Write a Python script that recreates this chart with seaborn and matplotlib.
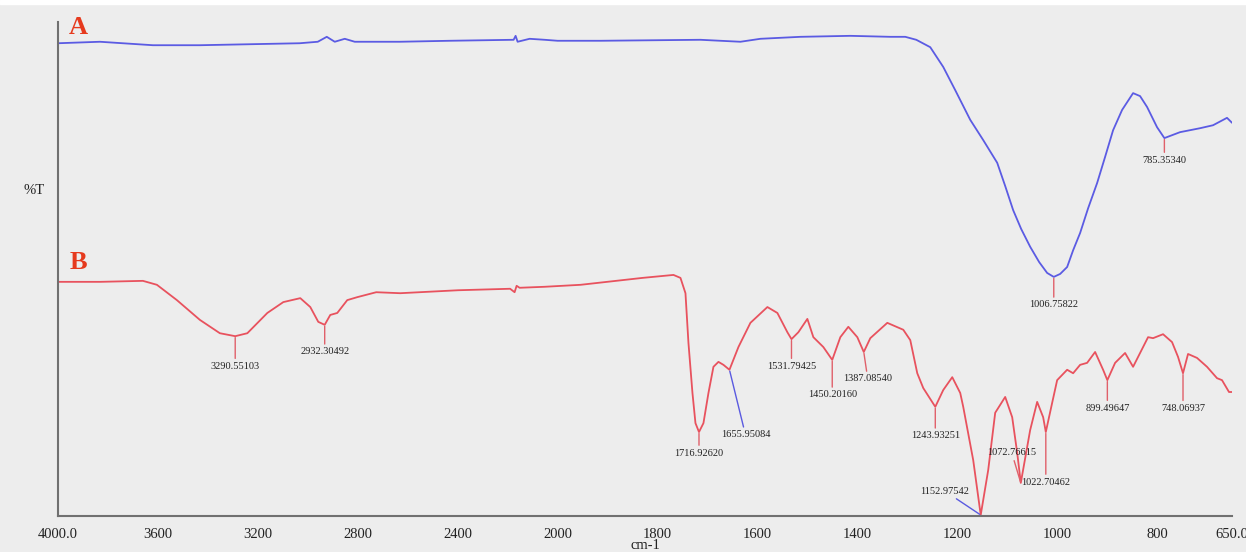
import matplotlib

matplotlib.use("Agg")
import matplotlib.pyplot as plt
import numpy as np
import pandas as pd
import seaborn as sns
from matplotlib.patches import Rectangle

# FTIR spectrum A (wavenumber cm-1, %T)
wn_a = [4000, 3832, 3620, 3432, 3232, 3032, 2960, 2924, 2892, 2852, 2812, 2632,
        2432, 2176, 2168, 2160, 2112, 2052, 2000, 1914, 1714, 1634, 1594, 1514,
        1414, 1334, 1304, 1282, 1254, 1228, 1204, 1174, 1148, 1120, 1104, 1088,
        1072, 1054, 1036, 1020, 1006.76, 994, 980, 968, 954, 938, 920, 904, 888,
        870, 848, 834, 820, 800, 785.35, 754, 714, 688, 660, 650]
t_a = [95.7, 96.0, 95.3, 95.3, 95.5, 95.7, 96.0, 97.0, 96.0, 96.6, 96.0, 96.0,
       96.2, 96.4, 97.2, 96.0, 96.6, 96.4, 96.2, 96.2, 96.4, 96.0, 96.6, 97.0,
       97.2, 97.0, 97.0, 96.4, 94.9, 90.9, 86.2, 80.2, 76.1, 71.5, 66.8, 61.9,
       58.1, 54.5, 51.4, 49.2, 48.4, 49.0, 50.4, 53.8, 57.3, 62.3, 67.4, 72.7, 78.1,
       82.2, 85.6, 85.0, 82.8, 78.7, 76.5, 77.7, 78.5, 79.1, 80.6, 79.6]

# FTIR spectrum B
wn_b = [4000, 3832, 3660, 3604, 3524, 3432, 3352, 3290.55, 3242, 3162, 3098, 3030,
        2990, 2958, 2932.30, 2910, 2882, 2842, 2802, 2726, 2630, 2398, 2190, 2172,
        2164, 2152, 2052, 1954, 1830, 1768, 1754, 1744, 1738, 1730, 1724, 1716.93,
        1708, 1698, 1688, 1678, 1668, 1655.95, 1638, 1614, 1580, 1560, 1540, 1531.79,
        1518, 1500, 1488, 1468, 1450.20, 1434, 1418, 1400, 1387.09, 1374, 1340, 1308,
        1294, 1280, 1268, 1243.93, 1228, 1210, 1194, 1188, 1168, 1152.98, 1138, 1124,
        1104, 1090, 1080, 1072.77, 1054, 1040, 1028, 1022.70, 1010, 1000, 980, 968,
        954, 940, 924, 908, 899.50, 884, 864, 848, 834, 818, 808, 788, 770, 758,
        748.07, 738, 720, 700, 680, 670, 656, 650]
t_b = [47.4, 47.4, 47.6, 46.8, 43.7, 39.7, 37.0, 36.4, 37.0, 41.1, 43.3, 44.1,
       42.3, 39.3, 38.7, 40.7, 41.1, 43.7, 44.3, 45.3, 45.1, 45.7, 46.0, 45.3,
       46.6, 46.2, 46.4, 46.8, 48.2, 48.8, 48.2, 45.1, 35.0, 24.9, 18.8, 17.0,
       18.8, 24.9, 30.2, 31.2, 30.6, 29.6, 34.2, 39.1, 42.3, 41.1, 37.2, 35.8,
       37.2, 39.9, 36.2, 34.2, 31.6, 36.2, 38.3, 36.2, 33.2, 36.0, 39.1, 37.7,
       35.6, 28.9, 25.9, 22.1, 25.5, 28.1, 24.9, 22.1, 11.3, 0.2, 9.3, 20.9,
       24.1, 20.0, 12.8, 6.7, 17.4, 23.1, 20.0, 17.0, 22.9, 27.5, 29.6, 28.9,
       30.6, 31.0, 33.2, 29.6, 27.5, 31.0, 33.0, 30.2, 33.0, 36.2, 36.0, 36.8, 35.2, 32.2,
       28.9, 32.8, 32.0, 30.2, 27.9, 27.5, 25.1, 25.1]

# peak labels: (text, wavenumber, spectrum, leader colour, text offset px)
peaks = [
    ("785.35340", 785.35, "A", "red", (0, -22)),
    ("1006.75822", 1006.76, "A", "red", (0, -28)),
    ("3290.55103", 3290.55, "B", "red", (0, -30)),
    ("2932.30492", 2932.30, "B", "red", (0, -27)),
    ("1716.92620", 1716.93, "B", "red", (0, -21)),
    ("1655.95084", 1655.95, "B", "blue", (16, -65)),
    ("1531.79425", 1531.79, "B", "red", (0, -27)),
    ("1450.20160", 1450.20, "B", "red", (0, -35)),
    ("1387.08540", 1387.09, "B", "red", (4, -27)),
    ("1243.93251", 1243.93, "B", "red", (0, -29)),
    ("1152.97542", 1152.98, "B", "blue", (-36, 24)),
    ("1072.76615", 1072.77, "B", "red", (-9, 30)),
    ("1022.70462", 1022.70, "B", "red", (0, -50)),
    ("899.49647", 899.50, "B", "red", (0, -28)),
    ("748.06937", 748.07, "B", "red", (0, -35)),
]

x_ticks = [4000, 3600, 3200, 2800, 2400, 2000, 1800, 1600, 1400, 1200, 1000, 800, 650]
x_tick_labels = ["4000.0", "3600", "3200", "2800", "2400", "2000", "1800", "1600",
                 "1400", "1200", "1000", "800", "650.0"]

BLUE = "#5b5be3"
RED = "#e8525e"
LEADER = {"red": "#e0606a", "blue": "#5a5ae0"}
BG = "#ededed"


def fwd(w):
    # region above 2000 cm-1 is compressed by 2x
    w = np.asarray(w, dtype=float)
    return np.where(w > 2000, 2000 + (w - 2000) / 2, w)


def inv(p):
    p = np.asarray(p, dtype=float)
    return np.where(p > 2000, 2000 + (p - 2000) * 2, p)


sns.set_style("white")
plt.rcParams["font.family"] = ["Liberation Serif", "DejaVu Serif"]

df_a = pd.DataFrame({"wn": wn_a, "T": t_a})
df_b = pd.DataFrame({"wn": wn_b, "T": t_b})

fig = plt.figure(figsize=(12.46, 5.52), dpi=100, facecolor=BG)
fig.patches.append(Rectangle((0, 1 - 4 / 552), 1, 4 / 552, transform=fig.transFigure,
                             color="white", zorder=-1))
ax = fig.add_axes([58 / 1246, 36 / 552, 1174 / 1246, 494 / 552])
ax.set_facecolor(BG)

sns.lineplot(data=df_a, x="wn", y="T", sort=False, estimator=None, color=BLUE, lw=1.3, ax=ax)
sns.lineplot(data=df_b, x="wn", y="T", sort=False, estimator=None, color=RED, lw=1.3, ax=ax)

ax.set_xscale("function", functions=(fwd, inv))
ax.set_xlim(4000, 650)
ax.set_ylim(0, 100)

series = {"A": df_a, "B": df_b}
for text, wn, key, col, off in peaks:
    d = series[key].sort_values("wn")
    y = np.interp(wn, d["wn"], d["T"])
    ax.annotate(text, xy=(wn, y), xytext=off, textcoords="offset pixels",
                ha="center", va="center", fontsize=7.5, color="#222222",
                arrowprops=dict(arrowstyle="-", color=LEADER[col], lw=1.0,
                                shrinkA=0, shrinkB=1))

ax.text(0.017, 0.989, "A", transform=ax.transAxes, color="#e63a1e",
        fontsize=19, fontweight="bold", ha="center", va="center")
ax.text(0.017, 0.513, "B", transform=ax.transAxes, color="#e63a1e",
        fontsize=19, fontweight="bold", ha="center", va="center")

ax.set_xticks(x_ticks)
ax.set_xticklabels(x_tick_labels)
ax.set_yticks(np.arange(2.8, 100, 8.42))
ax.set_yticklabels([])
ax.minorticks_off()
ax.tick_params(axis="x", direction="inout", length=5, width=1, color="#707070",
               labelsize=10.5, pad=6, labelcolor="#222222")
ax.tick_params(axis="y", direction="out", length=3, width=1, color="#707070")

ax.set_xlabel("cm-1", fontsize=10.5, labelpad=-1.5, color="#222222")
ax.set_ylabel("%T", fontsize=10.5, rotation=0, labelpad=8, color="#222222")
ax.yaxis.set_label_coords(-0.02, 0.645)

for s in ["top", "right"]:
    ax.spines[s].set_visible(False)
for s in ["left", "bottom"]:
    ax.spines[s].set_color("#707070")
    ax.spines[s].set_linewidth(1.5)

fig.savefig("out.png", dpi=100, facecolor=BG)
